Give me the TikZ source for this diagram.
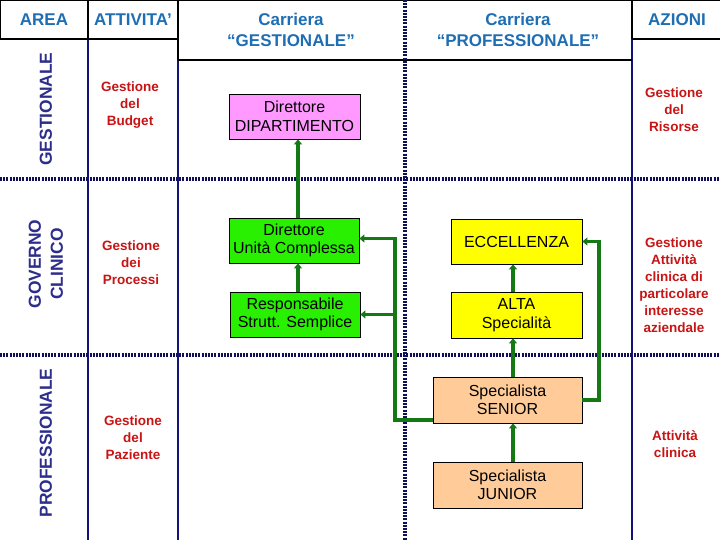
\documentclass[tikz,border=0pt]{standalone}
\usepackage{fontspec}
\setmainfont{Liberation Sans}
\usetikzlibrary{arrows.meta}
\definecolor{hdrblue}{RGB}{30,110,180}
\definecolor{areanavy}{RGB}{45,45,140}
\definecolor{actred}{RGB}{200,20,20}
\definecolor{gridnavy}{RGB}{20,20,120}
\definecolor{dotnavy}{RGB}{15,15,90}
\definecolor{arrgreen}{RGB}{20,120,20}
\definecolor{pinkbox}{RGB}{255,153,255}
\definecolor{greenbox}{RGB}{40,240,0}
\definecolor{yellowbox}{RGB}{255,255,0}
\definecolor{peachbox}{RGB}{255,204,153}
\begin{document}
\begin{tikzpicture}[x=1pt,y=-1pt,
  hdr/.style={text=hdrblue, font=\fontsize{17}{21.5}\selectfont\bfseries, align=center, inner sep=0pt},
  arealbl/.style={text=areanavy, font=\fontsize{17.4}{22}\selectfont\bfseries, align=center, rotate=90, inner sep=0pt},
  actlbl/.style={text=actred, font=\fontsize{13.5}{17}\selectfont\bfseries, align=center, inner sep=0pt},
  career/.style={draw=black, line width=0.8pt, minimum height=45pt, align=center, font=\fontsize{16}{18.5}\selectfont, inner sep=0pt},
  headline/.style={draw=black, line width=1.3pt},
  gridline/.style={draw=gridnavy, line width=1.2pt},
  dotline/.style={draw=dotnavy, line width=3.2pt, dash pattern=on 2pt off 1.2pt},
  conn/.style={draw=arrgreen, line width=3.4pt, line join=miter},
  arrtip/.style={-{Triangle[length=5pt,width=8pt]}}
]
\useasboundingbox (0,0) rectangle (720,540);
\fill[white] (0,0) rectangle (720,540);

% grid lines
\draw[gridline] (88,39) -- (88,540);
\draw[gridline] (178,60) -- (178,540);
\draw[gridline] (632,39) -- (632,540);
% header lines
\draw[headline] (0,0.7) -- (720,0.7);
\draw[headline] (0.7,0) -- (0.7,39);
\draw[headline] (88,0) -- (88,39);
\draw[headline] (178,0) -- (178,60);
\draw[headline] (632,0) -- (632,39);
\draw[headline] (0,39) -- (178,39);
\draw[headline] (632,39) -- (720,39);
\draw[headline] (178,60) -- (632,60);
% dotted separators
\draw[dotline] (0,179) -- (720,179);
\draw[dotline] (0,355) -- (720,355);
\draw[dotline] (405,0) -- (405,540);

% header texts
\node[hdr] (harea) at (44,20) {AREA};
\node[hdr] (hatt) at (133,20) {ATTIVITA’};
\node[hdr] (hgest) at (291,30) {Carriera\\“GESTIONALE”};
\node[hdr] (hprof) at (518,30) {Carriera\\“PROFESSIONALE”};
\node[hdr] (hazi) at (677,20) {AZIONI};

% area labels
\node[arealbl] (agest) at (46,109) {GESTIONALE};
\node[arealbl] (agov) at (46,264) {GOVERNO\\CLINICO};
\node[arealbl] (aprof) at (46,443) {PROFESSIONALE};

% activity labels
\node[actlbl] (budget) at (130,105) {Gestione\\del\\Budget};
\node[actlbl] (processi) at (131,263) {Gestione\\dei\\Processi};
\node[actlbl] (paziente) at (133,438) {Gestione\\del\\Paziente};

% actions
\node[actlbl] (risorse) at (674,110) {Gestione\\del\\Risorse};
\node[actlbl] (clinpart) at (674,285) {Gestione\\Attività\\clinica di\\particolare\\interesse\\aziendale};
\node[actlbl] (clin) at (675,444) {Attività\\clinica};

% career boxes
\node[career, fill=pinkbox, minimum width=131pt] (dip) at (294.5,116.5) {Direttore\\DIPARTIMENTO};
\node[career, fill=greenbox, minimum width=130pt] (duc) at (294,240.5) {Direttore\\Unità Complessa};
\node[career, fill=greenbox, minimum width=130pt] (rss) at (295,314.5) {Responsabile\\Strutt. Semplice};
\node[career, fill=yellowbox, minimum width=131pt] (ecc) at (516.5,241.5) {ECCELLENZA};
\node[career, fill=yellowbox, minimum width=131pt, minimum height=46pt] (alta) at (516.5,315) {ALTA\\Specialità};
\node[career, fill=peachbox, minimum width=149pt, minimum height=46pt] (sen) at (507.5,400) {Specialista\\SENIOR};
\node[career, fill=peachbox, minimum width=149pt, minimum height=46pt] (jun) at (507.5,485) {Specialista\\JUNIOR};

% connectors
\coordinate (lx) at (298,0);
\coordinate (rx) at (513,0);
\coordinate (j1) at (395,420);
\coordinate (j2) at (599,400);

\draw[conn,arrtip] (duc.north -| lx) -- (dip.south -| lx);
\draw[conn,arrtip] (rss.north -| lx) -- (duc.south -| lx);
\draw[conn,arrtip] (alta.north -| rx) -- (ecc.south -| rx);
\draw[conn,arrtip] (sen.north -| rx) -- (alta.south -| rx);
\draw[conn,arrtip] (jun.north -| rx) -- (sen.south -| rx);
\draw[conn,arrtip] (sen.west |- j1) -- (j1) |- ([yshift=2pt]duc.east);
\draw[conn,arrtip] (j1 |- rss.east) -- (rss.east);
\draw[conn,arrtip] (sen.east) -- (j2) |- (ecc.east);
\end{tikzpicture}
\end{document}
